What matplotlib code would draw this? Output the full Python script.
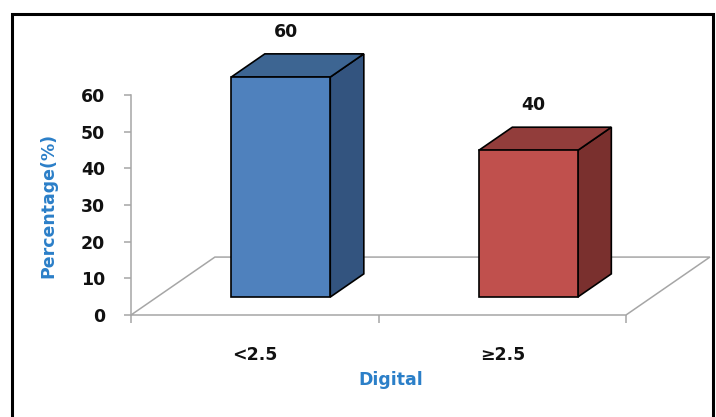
import matplotlib
matplotlib.use("Agg")
import matplotlib.pyplot as plt
from matplotlib.patches import Polygon, Rectangle

categories = ["<2.5", "\u22652.5"]
values = [60, 40]
yticks = [0, 10, 20, 30, 40, 50, 60]
value_labels = ["60", "40"]

FONT = ["DejaVu Sans"]
FS = 12.5
BLUE_TXT = "#2B7FC8"
TXT = "#111111"
front_cols = ["#4F81BD", "#C0504D"]
top_cols = ["#3D6592", "#923D3B"]
side_cols = ["#33547F", "#7A302E"]

fig = plt.figure(figsize=(7.16, 4.17), dpi=100)
ax = fig.add_axes([131 / 716, 102 / 417, 495 / 716, 220 / 417])
ax.set_xlim(-0.5, len(categories) - 0.5)
ax.set_ylim(0, 60)

# oblique depth of the floor (category units, value units)
DX, DY = 0.339, 15.8
F1, F2 = 0.31, 0.71   # front / back plane of the bars as fraction of depth
W = 0.4

floor_col = "#A6A6A6"
x0, x1 = -0.5, len(categories) - 0.5
floor = Polygon([(x0, 0), (x1, 0), (x1 + DX, DY), (x0 + DX, DY)], closed=True,
                facecolor="none", edgecolor=floor_col, lw=1.1, clip_on=False, zorder=1)
ax.add_patch(floor)

for i, v in enumerate(values):
    fx = i - W / 2 + F1 * DX
    fy = F1 * DY
    ddx, ddy = (F2 - F1) * DX, (F2 - F1) * DY
    kw = dict(closed=True, edgecolor="black", lw=1.2, clip_on=False, zorder=3)
    side = Polygon([(fx + W, fy), (fx + W + ddx, fy + ddy), (fx + W + ddx, fy + v + ddy),
                    (fx + W, fy + v)], facecolor=side_cols[i], **kw)
    top = Polygon([(fx, fy + v), (fx + W, fy + v), (fx + W + ddx, fy + v + ddy),
                   (fx + ddx, fy + v + ddy)], facecolor=top_cols[i], **kw)
    front = Polygon([(fx, fy), (fx + W, fy), (fx + W, fy + v), (fx, fy + v)],
                    facecolor=front_cols[i], **kw)
    for p in (side, top, front):
        ax.add_patch(p)
    ax.text(i + F1 * DX + 0.02, v + F2 * DY + 6, value_labels[i], ha="center", va="center",
            fontsize=FS, fontweight="bold", family=FONT, color=TXT, clip_on=False)
    ax.text(i, -10.9, categories[i], ha="center", va="center", fontsize=FS,
            fontweight="bold", family=FONT, color=TXT, clip_on=False)

ax.text(0.55, -17.8, "Digital", ha="center", va="center", fontsize=FS, fontweight="bold",
        family=FONT, color=BLUE_TXT, clip_on=False)

for s in ["top", "right", "bottom"]:
    ax.spines[s].set_visible(False)
ax.spines["left"].set_color(floor_col)
ax.spines["left"].set_linewidth(1.1)
ax.set_facecolor("none")

ax.set_yticks(yticks)
ax.set_yticklabels([str(t) for t in yticks], fontsize=FS, fontweight="bold", family=FONT,
                   color=TXT)
ax.tick_params(axis="y", length=5, width=1.1, color=floor_col, pad=13.5)
ax.set_xticks([x0, 0.5, x1])
ax.set_xticklabels(["", "", ""])
ax.tick_params(axis="x", length=6, width=1.1, color=floor_col, direction="out")
for t in ax.xaxis.get_major_ticks():
    t.tick1line.set_clip_on(False)

fig.text(48 / 716, 1 - 205 / 417, "Percentage(%)", rotation=90, ha="center", va="center",
         fontsize=FS, fontweight="bold", family=FONT, color=BLUE_TXT)

fig.patches.append(Rectangle((12 / 716, -0.05), 701 / 716, 1.05 - 14 / 417,
                             transform=fig.transFigure, facecolor="none",
                             edgecolor="black", lw=2.2, zorder=10))

fig.savefig("out.png", dpi=100)
